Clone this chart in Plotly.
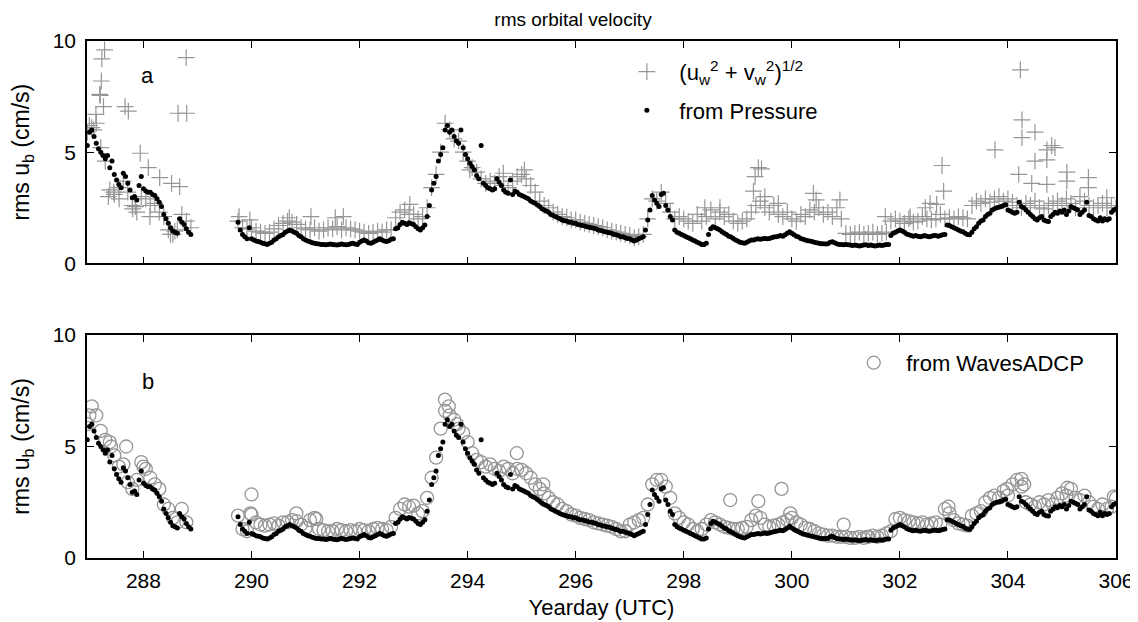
import numpy as np
import plotly.graph_objects as go

# ---------------- data ----------------
HOUR = 1.0 / 24.0
seg1_start = 286.96      # first record, hourly sampling
seg2_start = 289.75      # record resumes after the gap

# rms u_b from pressure, hourly (cm/s)
ub_pressure_seg1 = [
    5.3, 5.9, 6.0, 5.7, 5.4, 5.15, 5.0, 4.85, 4.7, 4.85, 4.3, 4.6, 4.0, 3.75, 3.55, 3.4,
    4.05, 3.9, 3.6, 3.3, 2.95, 3.0, 2.85, 3.5, 3.9, 3.35, 3.25, 3.2, 3.2, 3.1, 3.05, 2.9,
    2.75, 2.55, 2.2, 2.0, 1.8, 1.6, 1.45, 1.4, 1.35, 2.0, 1.85, 1.75, 1.55, 1.4, 1.3]
ub_pressure_seg2 = [
    1.85, 1.5, 1.3, 1.2, 1.1, 1.6,
    1.1, 1.05, 1.0, 0.98, 0.95, 0.9, 0.88, 0.85, 0.9, 0.95, 1.05, 1.1, 1.2, 1.25, 1.3, 1.4, 1.45, 1.5, 1.45, 1.4, 1.35, 1.25, 1.2, 1.1,
    1.05, 1.0, 0.97, 0.93, 0.9, 0.88, 0.87, 0.85, 0.85, 0.83, 0.85, 0.87, 0.85, 0.83, 0.82, 0.85, 0.87, 0.85, 0.83, 0.85, 0.88, 0.9, 0.87, 0.85,
    0.95, 1.0, 1.05, 1.0, 0.92, 0.9, 0.95, 1.0, 1.05, 1.1, 1.05, 1.0, 0.98, 1.02, 1.08, 1.1, 1.55, 1.6, 1.75, 1.85, 1.8, 1.75, 1.82, 1.78,
    1.75, 1.65, 1.55, 1.5, 1.6, 1.72, 2.1, 2.6, 3.3, 3.6, 3.9, 4.6, 4.9, 5.2, 6.0, 6.2, 5.9, 6.0, 5.7, 5.5, 5.4, 6.0, 5.2, 4.9,
    4.7, 4.5, 4.35, 4.2, 3.95, 3.8, 5.3, 3.6, 3.5, 3.4, 3.35, 3.3, 3.35, 3.8, 3.65, 3.5, 3.3, 3.2, 3.15, 3.75, 3.1, 3.25, 3.2, 3.1,
    3.05, 3.0, 2.95, 2.9, 2.8, 2.75, 2.7, 2.62, 2.55, 2.45, 2.4, 2.35, 2.3, 2.2, 2.15, 2.1, 2.05, 2.0, 1.95, 1.92, 1.9, 1.85, 1.85, 1.8,
    1.8, 1.75, 1.72, 1.7, 1.68, 1.65, 1.62, 1.6, 1.58, 1.55, 1.5, 1.48, 1.45, 1.42, 1.4, 1.38, 1.35, 1.3, 1.28, 1.25, 1.2, 1.2, 1.15, 1.12,
    1.1, 1.05, 1.0, 1.05, 1.1, 1.15, 1.2, 1.5, 1.95, 2.4, 3.05, 2.85, 2.7, 2.55, 3.1, 3.15, 2.6, 2.4, 2.1, 1.95, 1.5, 1.4, 1.35, 1.3,
    1.25, 1.2, 1.15, 1.1, 1.05, 1.0, 0.95, 0.9, 0.85, 0.85, 0.9, 1.3, 1.55, 1.65, 1.6, 1.55, 1.5, 1.42, 1.35, 1.3, 1.22, 1.18, 1.12, 1.05,
    1.0, 0.95, 0.92, 0.9, 0.95, 1.0, 1.05, 1.05, 1.08, 1.1, 1.08, 1.1, 1.12, 1.1, 1.12, 1.15, 1.18, 1.2, 1.22, 1.25, 1.22, 1.28, 1.35, 1.42,
    1.35, 1.28, 1.22, 1.18, 1.12, 1.08, 1.05, 1.02, 1.0, 0.98, 0.95, 0.92, 0.9, 0.88, 0.88, 0.87, 0.88, 0.95, 0.97, 0.92, 0.88, 0.85, 0.85, 0.83,
    0.85, 0.83, 0.82, 0.8, 0.82, 0.8, 0.78, 0.8, 0.82, 0.83, 0.8, 0.82, 0.8, 0.78, 0.8, 0.82, 0.8, 0.82, 0.85, 0.85, 1.25, 1.35, 1.4, 1.45,
    1.5, 1.45, 1.4, 1.32, 1.28, 1.25, 1.22, 1.25, 1.22, 1.2, 1.22, 1.25, 1.22, 1.2, 1.22, 1.25, 1.25, 1.22, 1.25, 1.28, 1.3, 1.72, 1.7, 1.65,
    1.6, 1.55, 1.5, 1.45, 1.42, 1.35, 1.3, 1.28, 1.4, 1.55, 1.65, 1.8, 1.9, 1.95, 2.1, 2.2, 2.25, 2.4, 2.45, 2.5, 2.52, 2.55, 2.6, 2.63,
    2.4, 2.35, 2.3, 2.25, 2.3, 2.75, 2.55, 2.5, 2.4, 2.3, 2.2, 2.1, 2.0, 1.95, 2.05, 2.1, 1.95, 1.9, 1.88, 2.1, 2.2, 2.3, 2.25, 2.35,
    2.3, 2.4, 2.2, 2.35, 2.55, 2.5, 2.45, 2.4, 2.2, 2.3, 2.4, 2.75, 2.15, 2.1, 2.0, 1.95, 1.9, 2.05, 1.9, 2.0, 1.95, 2.0, 2.3, 2.4,
    2.45]

# (u_w^2 + v_w^2)^(1/2), two-hourly (cm/s)
uv_seg1 = [5.9, 6.1, 6.3, 5.2, 4.6, 3.3, 3.1, 3.4, 3.7, 3.2, 2.6, 2.3,
           3.0, 2.9, 2.6, 2.7, 2.3, 2.1, 1.5, 1.3, 1.5, 2.2, 1.9, 1.6]
uv_seg2 = [
    1.9, 1.6, 1.55,
    1.6, 1.45, 1.4, 1.35, 1.4, 1.55, 1.7, 1.8, 1.9, 1.85, 1.75, 1.6,
    1.55, 1.5, 1.6, 1.45, 1.5, 1.6, 1.55, 1.65, 1.5, 1.6, 1.55, 1.5,
    1.45, 1.4, 1.35, 1.4, 1.45, 1.4, 1.5, 1.5, 2.05, 2.3, 2.4, 2.2,
    2.2, 2.0, 2.1, 2.5, 3.4, 4.0, 5.0, 6.3, 6.0, 5.6, 5.5, 5.0,
    4.6, 4.3, 4.1, 3.8, 3.6, 3.7, 3.6, 3.9, 3.5, 3.4, 3.7, 3.9,
    4.0, 3.8, 3.5, 3.2, 2.8, 2.6, 2.5, 2.3, 2.2, 2.1, 2.05, 1.95,
    1.95, 1.85, 1.8, 1.75, 1.7, 1.65, 1.6, 1.5, 1.45, 1.4, 1.35, 1.3,
    1.25, 1.15, 1.2, 1.3, 2.0, 2.9, 2.8, 3.2, 2.7, 2.3, 2.0, 2.1,
    2.0, 1.9, 1.8, 2.2, 1.9, 2.1, 2.4, 2.0, 2.3, 2.1, 2.2, 1.9,
    1.8, 1.9, 2.0, 2.3, 2.6, 2.8, 2.5, 2.3, 2.6, 2.2, 2.1, 2.3,
    2.0, 1.9, 2.2, 2.1, 2.4, 2.3, 2.5, 2.2, 2.3, 2.1, 2.5, 2.0,
    1.35, 1.3, 1.35, 1.4, 1.3, 1.35, 1.4, 1.3, 1.35, 1.4, 1.9, 2.0,
    1.9, 1.8, 2.0, 1.85, 1.9, 2.1, 2.0, 1.95, 2.0, 2.2, 2.0, 2.05,
    2.0, 2.1, 2.05, 2.0, 2.6, 2.8, 2.7, 2.9, 2.75, 2.9, 3.0, 2.8,
    2.9, 2.75, 2.6, 2.5, 2.7, 2.6, 2.8, 2.5, 2.45, 2.6, 2.7, 2.8,
    2.6, 2.9, 2.7, 2.5, 3.0, 2.8, 2.6, 2.5, 2.6, 2.7, 2.5, 2.6,
    2.5]
uv_extra_day = [287.0, 287.08, 287.12, 287.19, 287.2, 287.22, 287.23, 287.28, 287.26, 287.66,
                287.72, 287.94, 288.09, 288.3, 288.52, 288.67, 288.64, 288.8, 288.79, 287.35,
                287.45, 287.55, 287.8, 287.85, 288.12, 288.5, 288.58,
                289.77, 289.97, 290.7, 291.1, 291.55, 291.7, 292.93, 294.04, 294.66, 295.05,
                298.39, 298.67, 299.29, 299.32, 299.38, 299.44, 299.5, 299.75, 300.4, 300.45,
                300.89, 301.73, 302.19, 302.47, 302.56, 302.68, 302.78, 302.81, 303.76, 304.2,
                304.23, 304.26, 304.26, 304.44, 304.5, 304.5, 304.72, 304.72, 304.72, 304.81,
                304.87, 305.09, 305.09, 305.49, 305.49, 305.83]
uv_extra_val = [6.2, 6.0, 6.7, 7.6, 7.55, 8.2, 9.2, 9.6, 7.05, 7.05,
                6.85, 4.95, 4.3, 3.85, 3.6, 3.45, 6.75, 6.75, 9.25, 3.0,
                3.2, 2.9, 2.45, 2.55, 2.1, 1.3, 1.45,
                2.1, 1.95, 2.05, 2.1, 2.05, 2.1, 2.65, 4.2, 4.05, 4.2,
                2.5, 2.5, 3.25, 3.9, 4.3, 4.25, 3.0, 2.7, 3.15, 2.85,
                2.85, 2.1, 2.1, 2.5, 2.7, 2.65, 4.4, 3.25, 5.1, 4.0,
                8.7, 6.45, 5.65, 3.6, 5.9, 4.6, 5.1, 4.65, 3.55, 5.3,
                5.2, 4.1, 3.7, 3.85, 3.4, 2.95]

# rms u_b from WavesADCP, two-hourly (cm/s)
adcp_seg1 = [6.0, 6.8, 6.4, 5.7, 5.3, 5.2, 4.6, 4.1, 4.2, 3.4, 3.1, 3.5,
             4.3, 4.0, 3.6, 3.3, 3.1, 2.4, 2.2, 1.8, 1.6, 2.2, 1.6]
adcp_seg2 = [
    1.9, 1.3, 1.2,
    1.95, 1.6, 1.5, 1.45, 1.5, 1.55, 1.45, 1.6, 1.6, 1.7, 1.65, 1.5,
    1.35, 1.7, 1.8, 1.3, 1.25, 1.2, 1.2, 1.3, 1.25, 1.2, 1.25, 1.2,
    1.3, 1.25, 1.2, 1.3, 1.35, 1.3, 1.25, 1.4, 1.8, 2.2, 2.4, 2.3,
    2.35, 2.0, 2.1, 2.7, 3.6, 4.5, 5.8, 6.6, 6.4, 6.2, 5.8, 5.6,
    5.2, 4.7, 4.4, 4.3, 4.1, 4.2, 4.0, 3.9, 4.1, 4.0, 3.8, 4.0,
    3.95, 3.8, 3.6, 3.3, 3.1, 2.9, 2.7, 2.5, 2.4, 2.2, 2.1, 1.95,
    1.9, 1.8, 1.75, 1.7, 1.6, 1.55, 1.5, 1.45, 1.4, 1.3, 1.2, 1.2,
    1.5, 1.6, 1.7, 1.8, 2.4, 3.3, 3.5, 3.5, 3.2, 2.7, 2.0, 1.8,
    1.6, 1.5, 1.3, 1.2, 1.3, 1.5, 1.7, 1.6, 1.5, 1.4, 1.35, 1.3,
    1.3, 1.35, 1.4, 1.7, 1.9, 1.8, 1.5, 1.4, 1.45, 1.5, 1.6, 1.7,
    1.8, 1.6, 1.5, 1.35, 1.3, 1.2, 1.1, 1.05, 1.0, 1.0, 0.95, 0.95,
    0.95, 0.9, 0.9, 0.95, 0.9, 0.95, 1.0, 0.95, 1.0, 1.1, 1.2, 1.75,
    1.8, 1.7, 1.65, 1.6, 1.55, 1.6, 1.5, 1.55, 1.6, 1.5, 2.2, 2.0,
    1.7, 1.55, 1.5, 1.45, 1.9, 2.0, 2.1, 2.5, 2.7, 2.8, 2.7, 3.0,
    2.8, 3.3, 3.5, 3.2, 2.5, 2.4, 2.3, 2.5, 2.4, 2.6, 2.4, 2.7,
    2.9, 2.8, 3.1, 2.7, 2.6, 2.8, 2.5, 2.3, 2.2, 2.4, 2.2, 2.3,
    2.7]
adcp_extra_day = [287.0, 287.4, 287.68, 288.0, 289.98, 290.0, 290.83, 291.2, 293.58, 293.65,
                  293.8, 294.91, 295.4, 298.86, 299.38, 299.81, 299.97, 300.96, 301.39, 302.9,
                  303.98, 304.25, 304.3, 305.1, 305.96]
adcp_extra_val = [6.4, 5.0, 5.0, 4.1, 2.0, 2.85, 2.0, 1.75, 7.1, 6.8,
                  6.0, 4.7, 3.3, 2.6, 2.55, 3.1, 2.0, 1.5, 0.95, 2.3,
                  3.1, 3.55, 3.3, 3.15, 2.75]

x_ticks = [288, 290, 292, 294, 296, 298, 300, 302, 304, 306]
y_ticks = [0, 5, 10]
x_range = [286.955, 306.0]
y_range = [0, 10]

# ---------------- assemble series ----------------
p_day = np.concatenate([seg1_start + HOUR * np.arange(len(ub_pressure_seg1)),
                        seg2_start + HOUR * np.arange(len(ub_pressure_seg2))])
p_val = np.array(ub_pressure_seg1 + ub_pressure_seg2)

uv_day = np.concatenate([seg1_start + 2 * HOUR * np.arange(len(uv_seg1)),
                         seg2_start + 2 * HOUR * np.arange(len(uv_seg2)),
                         np.array(uv_extra_day)])
uv_val = np.array(uv_seg1 + uv_seg2 + uv_extra_val)

ad_day = np.concatenate([seg1_start + 2 * HOUR * np.arange(len(adcp_seg1)),
                         seg2_start + 2 * HOUR * np.arange(len(adcp_seg2)),
                         np.array(adcp_extra_day)])
ad_val = np.array(adcp_seg1 + adcp_seg2 + adcp_extra_val)

GRAY = "rgb(150,150,150)"
FONT = "Liberation Sans, Arial, Helvetica, sans-serif"

fig = go.Figure()
fig.add_trace(go.Scatter(
    x=uv_day, y=uv_val, mode="markers", xaxis="x", yaxis="y", legend="legend", legendgroup="g1",
    name="(u<sub>w</sub><sup>2</sup> + v<sub>w</sub><sup>2</sup>)<sup>1/2</sup>",
    marker=dict(symbol="cross-thin-open", size=12, color=GRAY, line=dict(width=1.2, color=GRAY))))
fig.add_trace(go.Scatter(
    x=p_day, y=p_val, mode="markers", xaxis="x", yaxis="y", legend="legend", legendgroup="g2",
    name="from Pressure", marker=dict(symbol="circle", size=5, color="black")))
fig.add_trace(go.Scatter(
    x=ad_day, y=ad_val, mode="markers", xaxis="x2", yaxis="y2", legend="legend2",
    name="from WavesADCP",
    marker=dict(symbol="circle-open", size=13, color=GRAY, line=dict(width=1.3, color=GRAY))))
fig.add_trace(go.Scatter(
    x=p_day, y=p_val, mode="markers", xaxis="x2", yaxis="y2", showlegend=False,
    name="from Pressure", marker=dict(symbol="circle", size=5, color="black")))

axis_common = dict(showline=True, linecolor="black", linewidth=1.5, mirror="ticks",
                   ticks="inside", ticklen=7, tickwidth=1, tickcolor="black",
                   showgrid=False, zeroline=False, automargin=False,
                   tickfont=dict(size=21, color="black", family=FONT))

ytitle = dict(text="rms u<sub>b</sub> (cm/s)", font=dict(size=23, color="black", family=FONT),
              standoff=24)

# the page adds an 8px body margin, so the figure is 8px smaller than the window
fig.update_layout(
    width=1130, height=614,
    margin=dict(l=79, r=22, t=33, b=64),
    paper_bgcolor="white", plot_bgcolor="white",
    font=dict(family=FONT, color="black"),
    title=dict(text="rms orbital velocity", x=0.5, xref="container", xanchor="center",
               y=1 - 5 / 614, yref="container", yanchor="top", pad=dict(t=0, b=0),
               font=dict(size=19, color="black", family=FONT)),
    xaxis=dict(axis_common, domain=[0, 1], anchor="y", range=x_range, tickvals=x_ticks,
               showticklabels=False),
    yaxis=dict(axis_common, domain=[0.570, 1.0], anchor="x", range=y_range, tickvals=y_ticks,
               ticklabelstandoff=5, title=ytitle),
    xaxis2=dict(axis_common, domain=[0, 1], anchor="y2", range=x_range, tickvals=x_ticks,
                ticklabelstandoff=3,
                title=dict(text="Yearday (UTC)", font=dict(size=22, color="black", family=FONT),
                           standoff=9)),
    yaxis2=dict(axis_common, domain=[0.0, 0.4313], anchor="x2", range=y_range, tickvals=y_ticks,
                ticklabelstandoff=5, title=ytitle),
    legend=dict(x=0.5125, y=0.981, xanchor="left", yanchor="top", bgcolor="rgba(0,0,0,0)",
                font=dict(size=22, color="black", family=FONT), itemwidth=55,
                tracegroupgap=7),
    legend2=dict(x=0.733, y=0.418, xanchor="left", yanchor="top", bgcolor="rgba(0,0,0,0)",
                 font=dict(size=22, color="black", family=FONT), itemwidth=55),
    showlegend=True,
    annotations=[
        dict(text="a", x=288.08, y=8.45, xref="x", yref="y", showarrow=False,
             font=dict(size=22, color="black", family=FONT)),
        dict(text="b", x=288.08, y=7.9, xref="x2", yref="y2", showarrow=False,
             font=dict(size=22, color="black", family=FONT)),
    ],
)

fig.write_html("out.html")
